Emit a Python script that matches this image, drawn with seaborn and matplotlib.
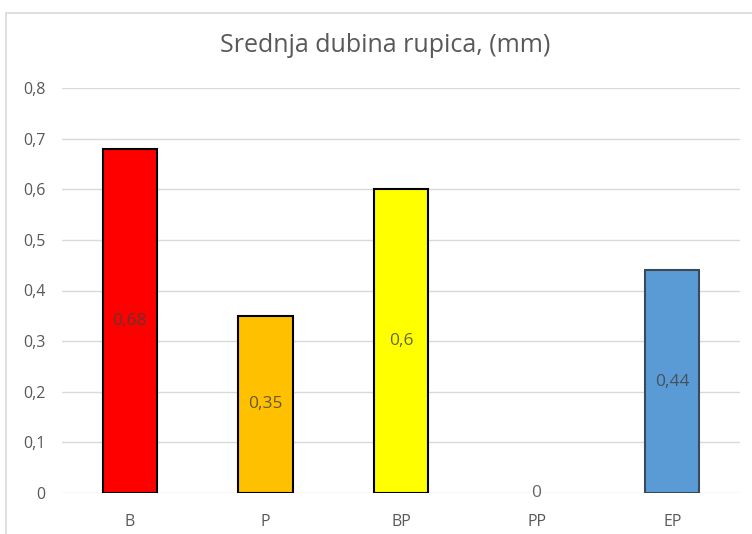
import matplotlib
matplotlib.use("Agg")
import matplotlib.pyplot as plt
import seaborn as sns
import pandas as pd
from matplotlib.lines import Line2D

# data
categories = ["B", "P", "BP", "PP", "EP"]
values = [0.68, 0.35, 0.6, 0.0, 0.44]
bar_colors = ["#FF0000", "#FFC000", "#FFFF00", "#A5A5A5", "#5B9BD5"]
edge_colors = ["#000000", "#000000", "#000000", "#000000", "#3A4A5C"]
y_ticks = [0, 0.1, 0.2, 0.3, 0.4, 0.5, 0.6, 0.7, 0.8]

df = pd.DataFrame({"cat": categories, "val": values})

sns.set_style("white")
plt.rcParams["font.family"] = ["Open Sans", "DejaVu Sans"]

fig = plt.figure(figsize=(7.52, 5.34), dpi=100)
ax = fig.add_axes([62 / 752, 41 / 534, 678 / 752, 405 / 534])

sns.barplot(data=df, x="cat", y="val", hue="cat", palette=bar_colors,
            saturation=1, legend=False, width=0.4, ax=ax, zorder=3)

for patch, ec, v in zip(ax.patches, edge_colors, values):
    patch.set_edgecolor(ec)
    patch.set_linewidth(1.5 if v > 0 else 0)

for cont in ax.containers:
    ax.bar_label(cont, labels=[("%g" % v.get_height()).replace(".", ",") for v in cont],
                 label_type="center", fontsize=12.5, color="#404040", alpha=0.8)

ax.set_ylim(0, 0.8)
ax.set_xlim(-0.5, 4.5)
ax.set_yticks(y_ticks)
ax.set_yticklabels([("%g" % t).replace(".", ",") for t in y_ticks])
ax.yaxis.grid(True, color="#D9D9D9", linewidth=1, zorder=0)
ax.set_axisbelow(True)
for s in ax.spines.values():
    s.set_visible(False)
ax.tick_params(axis="both", length=0, labelsize=11.5, labelcolor="#595959")
ax.tick_params(axis="x", pad=15)
ax.tick_params(axis="y", pad=12)
ax.set_xlabel("")
ax.set_ylabel("")

fig.suptitle("Srednja dubina rupica, (mm)", y=1 - 45 / 534, va="center",
             x=385 / 752, fontsize=18, color="#595959")

# chart frame (partially cropped)
fig.add_artist(Line2D([6 / 752, 6 / 752], [0, 1 - 13 / 534], color="#D9D9D9", lw=1.2))
fig.add_artist(Line2D([6 / 752, 1], [1 - 13 / 534, 1 - 13 / 534], color="#D9D9D9", lw=1.2))

fig.savefig("out.png", dpi=100)
